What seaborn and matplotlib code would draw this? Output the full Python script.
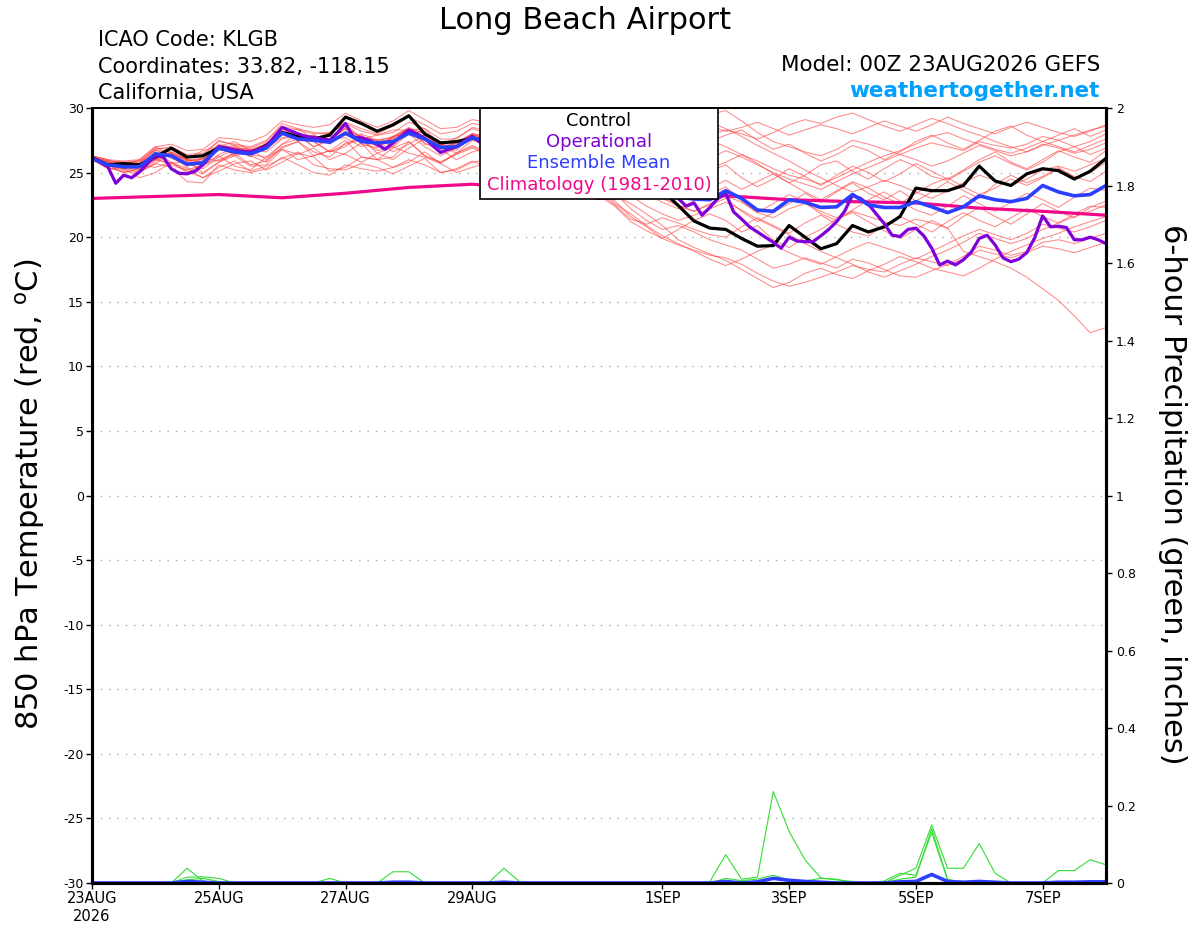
import numpy as np
import pandas as pd
import matplotlib
matplotlib.use("Agg")
import matplotlib.pyplot as plt
from matplotlib.patches import Rectangle
import seaborn as sns

sns.set_theme(style="white")
plt.rcParams['font.family'] = ['DejaVu Sans']
plt.rcParams['text.color'] = 'black'
plt.rcParams['axes.labelcolor'] = 'black'

# === time axes: GEFS 6-hourly out to 384 h, operational run 3-hourly ===
days = np.arange(65) / 4.0
op_days = np.arange(129) / 8.0
clim_days = np.arange(17)

# 850 hPa temperature (deg C)
control = [26.15, 25.6, 25.7, 25.6, 26.2, 26.9, 26.2, 26.3, 26.9, 26.6,
           26.5, 27.1, 28.1, 27.8, 27.6, 27.9, 29.3, 28.8, 28.2, 28.7,
           29.4, 28.0, 27.3, 27.4, 27.65, 27.5, 27.3, 27.0, 26.8, 26.6,
           26.5, 26.2, 25.9, 25.6, 25.2, 24.6, 23.6, 22.45, 21.25, 20.7,
           20.6, 19.9, 19.3, 19.35, 20.9, 20.0, 19.1, 19.5, 20.9, 20.4,
           20.8, 21.6, 23.8, 23.6, 23.6, 24.0, 25.5, 24.35, 24.0, 24.9,
           25.3, 25.15, 24.5, 25.1, 26.1]

ens_mean = [26.1, 25.6, 25.45, 25.45, 26.45, 26.3, 25.65, 25.75, 26.9, 26.6,
            26.45, 26.9, 28.05, 27.6, 27.5, 27.35, 28.05, 27.4, 27.3, 27.4,
            28.05, 27.6, 26.95, 27.0, 27.7, 27.4, 27.2, 27.0, 26.8, 26.6,
            26.3, 26.0, 25.6, 25.2, 24.8, 24.3, 23.7, 23.1, 22.95, 22.9,
            23.6, 23.0, 22.1, 22.0, 22.9, 22.7, 22.3, 22.35, 23.3, 22.5,
            22.3, 22.3, 22.75, 22.35, 21.9, 22.35, 23.2, 22.9, 22.75, 23.0,
            24.0, 23.5, 23.2, 23.3, 24.0]

operational = [26.13, 25.8, 25.45, 24.17, 24.8, 24.6, 25.05, 25.7, 26.3, 26.2,
               25.3, 24.95, 24.9, 25.1, 25.6, 26.3, 27.0, 26.9, 26.75, 26.65,
               26.6, 26.8, 27.05, 27.75, 28.5, 28.25, 28.0, 27.8, 27.7, 27.6,
               27.5, 28.1, 28.8, 27.75, 27.7, 27.5, 27.2, 26.8, 27.3, 27.8,
               28.3, 28.0, 27.65, 27.1, 26.55, 26.8, 27.0, 27.45, 27.8, 27.35,
               27.2, 27.0, 26.8, 26.9, 27.0, 26.7, 26.4, 26.5, 26.6, 26.3,
               26.0, 26.1, 26.2, 25.9, 25.6, 25.7, 25.5, 25.2, 25.0, 24.9,
               24.6, 24.3, 24.0, 23.6, 23.0, 22.4, 22.65, 21.7, 22.3, 23.0,
               23.4, 21.95, 21.4, 20.8, 20.4, 20.0, 19.6, 19.15, 20.0, 19.7,
               19.65, 19.65, 20.1, 20.6, 21.2, 22.0, 23.25, 23.0, 22.55, 21.8,
               21.05, 20.15, 20.05, 20.6, 20.7, 20.1, 19.15, 17.85, 18.15, 17.85,
               18.25, 18.85, 19.9, 20.15, 19.4, 18.4, 18.1, 18.3, 18.8, 19.95,
               21.65, 20.8, 20.85, 20.75, 19.8, 19.8, 20.0, 19.8, 19.5]

climatology = [23.0, 23.15, 23.3, 23.05, 23.4, 23.85, 24.1, 23.7, 23.0,
               23.2, 23.2, 22.9, 22.75, 22.65, 22.25, 22.0, 21.7]

members = [
    [26.2, 25.9, 25.8, 25.9, 26.8, 27.0, 26.4, 26.5, 27.4, 27.2, 27.0, 27.5, 28.6,
     28.3, 28.0, 28.1, 28.9, 28.4, 28.0, 28.6, 29.3, 28.7, 28.0, 28.2, 28.8, 28.6,
     28.5, 28.9, 29.2, 29.0, 28.8, 28.5, 28.6, 28.9, 29.2, 29.4, 29.6, 29.3, 29.1,
     29.5, 29.8, 29.0, 28.1, 27.4, 27.0, 26.6, 26.3, 26.8, 27.5, 27.2, 26.8, 26.4,
     26.9, 27.3, 27.0, 26.7, 27.4, 27.1, 26.9, 27.2, 27.8, 27.5, 27.0, 27.4, 28.0],
    [26.0, 25.4, 25.0, 25.3, 26.1, 25.6, 25.2, 25.6, 26.3, 25.5, 25.2, 26.2, 26.8,
     26.0, 26.3, 26.7, 26.4, 25.8, 26.5, 27.0, 26.5, 26.2, 25.7, 26.5, 27.1, 26.6,
     26.3, 26.0, 25.8, 25.4, 25.0, 24.6, 23.9, 22.8, 21.6, 20.8, 19.9, 19.4, 19.0,
     18.6, 18.4, 17.9, 17.2, 16.6, 16.2, 16.5, 16.9, 17.3, 17.8, 17.5, 17.3, 17.9,
     18.4, 18.1, 17.8, 18.3, 19.0, 18.7, 18.4, 18.8, 19.3, 19.1, 18.8, 19.2, 19.6],
    [26.3, 26.0, 25.6, 26.0, 27.0, 26.3, 26.1, 26.7, 27.0, 27.4, 26.7, 27.2, 28.0,
     28.4, 27.6, 28.1, 28.8, 27.6, 27.9, 28.3, 28.3, 28.4, 27.1, 27.7, 28.4, 28.0,
     27.8, 27.7, 27.6, 27.4, 27.1, 26.9, 26.4, 26.0, 25.5, 25.0, 24.6, 24.4, 24.9,
     25.3, 25.8, 26.4, 25.7, 24.9, 24.2, 24.8, 25.6, 25.9, 25.1, 24.5, 25.3, 26.0,
     25.5, 24.7, 24.4, 25.1, 25.8, 26.3, 25.7, 25.2, 25.8, 26.6, 27.0, 26.4, 26.9],
    [26.1, 25.8, 25.6, 25.1, 25.7, 26.5, 25.9, 25.0, 25.8, 26.6, 26.3, 25.8, 27.0,
     27.4, 26.6, 26.2, 27.3, 27.6, 26.5, 26.0, 26.9, 27.6, 26.8, 26.0, 26.6, 26.9,
     26.7, 26.6, 26.3, 26.0, 25.6, 25.1, 24.4, 23.4, 22.2, 21.3, 20.6, 20.9, 20.4,
     19.8, 19.4, 19.0, 18.3, 17.6, 17.9, 18.4, 18.0, 17.6, 18.3, 18.0, 17.5, 17.0,
     16.9, 17.4, 17.9, 18.5, 19.3, 19.0, 18.6, 18.9, 19.6, 19.8, 19.5, 19.9, 20.3],
    [26.2, 25.7, 25.6, 25.6, 26.5, 26.5, 25.9, 26.0, 27.1, 26.9, 26.8, 27.2, 28.3,
     27.9, 27.8, 27.6, 28.4, 27.8, 27.5, 27.7, 28.4, 28.0, 27.3, 27.3, 28.0, 27.8,
     27.9, 28.2, 28.4, 28.1, 27.8, 27.5, 27.7, 28.0, 27.6, 27.1, 26.6, 26.3, 26.8,
     27.4, 27.9, 28.3, 27.5, 26.8, 27.2, 26.5, 25.9, 26.4, 27.1, 26.7, 26.0, 26.6,
     27.4, 27.9, 27.3, 26.8, 27.5, 28.2, 28.6, 27.9, 27.4, 27.9, 28.4, 27.8, 28.3],
    [26.0, 25.5, 25.7, 25.5, 26.0, 25.7, 25.9, 26.1, 25.9, 26.4, 26.8, 26.0, 27.2,
     28.0, 27.4, 26.6, 27.0, 28.0, 27.5, 26.6, 27.2, 27.9, 27.1, 26.5, 27.5, 27.1,
     26.8, 26.5, 26.4, 26.1, 25.8, 25.5, 25.0, 24.5, 24.0, 23.6, 23.1, 22.5, 22.0,
     22.6, 23.2, 22.7, 21.9, 21.5, 22.2, 22.6, 22.0, 21.5, 22.0, 21.6, 21.2, 20.9,
     21.4, 21.1, 20.7, 18.9, 18.5, 18.1, 17.6, 16.9, 16.0, 15.1, 13.9, 12.6, 13.0],
    [26.3, 26.0, 25.9, 26.0, 27.0, 27.2, 26.7, 26.8, 27.7, 27.6, 27.4, 27.9, 29.0,
     28.7, 28.5, 28.7, 29.6, 29.0, 28.5, 29.0, 29.8, 29.1, 28.4, 28.5, 29.1, 28.9,
     28.6, 28.4, 28.7, 28.9, 29.2, 29.4, 29.0, 28.6, 28.3, 28.0, 27.8, 28.4, 28.9,
     28.6, 28.2, 28.5, 28.9, 28.4, 27.9, 28.3, 28.7, 28.4, 28.0, 28.5, 29.0, 28.6,
     28.2, 28.7, 29.3, 28.8, 28.4, 28.0, 28.5, 28.9, 28.5, 28.1, 27.8, 28.2, 28.7],
    [26.0, 25.5, 25.3, 24.6, 25.0, 25.8, 25.3, 24.6, 25.1, 25.7, 25.9, 25.2, 25.8,
     26.5, 26.2, 25.1, 25.4, 26.2, 26.0, 25.4, 25.8, 26.6, 25.7, 25.0, 25.4, 25.8,
     25.5, 25.3, 25.1, 24.8, 24.5, 24.1, 23.4, 22.5, 21.4, 21.0, 21.5, 21.1, 20.6,
     20.2, 20.0, 20.8, 21.5, 20.9, 20.3, 21.1, 21.7, 21.0, 20.4, 20.1, 20.9, 21.6,
     21.0, 20.4, 21.2, 21.9, 21.3, 20.8, 21.5, 22.2, 21.6, 21.1, 21.8, 22.4, 22.3],
    [26.1, 25.8, 25.3, 25.7, 26.8, 26.1, 25.6, 26.1, 26.7, 27.0, 26.2, 27.2, 28.5,
     27.4, 27.9, 27.2, 28.0, 27.9, 27.0, 27.8, 28.0, 28.2, 26.8, 27.4, 27.6, 27.6,
     27.4, 27.3, 27.0, 26.7, 26.5, 26.2, 25.9, 25.4, 24.9, 24.5, 24.0, 23.5, 23.2,
     23.8, 24.4, 23.7, 24.3, 24.9, 24.2, 23.5, 22.9, 23.6, 24.3, 23.8, 23.1, 22.6,
     23.4, 24.1, 24.6, 23.9, 23.3, 23.8, 24.5, 24.0, 24.6, 25.3, 24.7, 24.3, 25.1],
    [26.2, 25.9, 25.2, 25.5, 26.6, 25.8, 25.0, 25.6, 26.0, 26.5, 25.6, 25.9, 26.9,
     27.4, 26.3, 26.7, 27.5, 26.2, 26.0, 26.9, 27.4, 26.3, 25.8, 26.4, 26.9, 26.4,
     26.2, 26.0, 25.7, 25.4, 25.1, 24.7, 24.0, 23.2, 22.6, 21.8, 20.9, 19.8, 19.2,
     18.7, 18.2, 17.5, 16.8, 16.1, 16.5, 17.2, 17.6, 17.1, 16.8, 17.4, 17.9, 18.5,
     18.1, 17.6, 17.3, 17.0, 17.6, 18.3, 18.9, 19.4, 19.9, 20.3, 20.8, 21.2, 21.6],
    [26.3, 25.9, 25.8, 25.8, 26.9, 26.8, 26.2, 26.3, 27.5, 27.1, 26.9, 27.4, 28.8,
     28.4, 28.1, 28.0, 28.8, 28.2, 27.9, 28.1, 28.9, 28.4, 27.6, 27.6, 28.5, 28.2,
     27.9, 27.6, 27.2, 26.9, 26.6, 26.3, 26.1, 26.4, 26.9, 27.3, 27.8, 28.3, 28.0,
     27.5, 27.0, 26.4, 25.9, 25.3, 24.8, 24.5, 24.1, 24.6, 25.2, 25.8, 26.3, 26.7,
     27.2, 27.8, 28.1, 27.6, 27.2, 26.8, 26.5, 26.9, 27.4, 27.0, 26.6, 27.1, 27.6],
    [26.0, 25.3, 25.3, 25.6, 25.4, 25.8, 25.1, 24.6, 25.4, 25.9, 25.1, 25.5, 26.1,
     26.6, 25.6, 25.3, 25.2, 25.7, 25.4, 24.9, 25.5, 26.1, 25.0, 25.3, 25.9, 25.4,
     25.1, 24.8, 24.6, 24.3, 24.0, 23.7, 23.2, 22.4, 21.2, 20.5, 19.9, 20.6, 21.3,
     21.8, 21.3, 20.4, 20.9, 19.8, 19.2, 20.0, 20.6, 21.4, 21.9, 21.2, 20.5, 19.9,
     20.6, 21.3, 20.7, 21.6, 22.3, 21.6, 21.0, 21.8, 22.6, 22.0, 21.5, 22.3, 22.8],
    [26.1, 25.7, 25.8, 25.2, 26.0, 26.6, 25.5, 25.9, 27.1, 26.3, 26.6, 26.9, 27.7,
     27.9, 27.0, 27.6, 27.7, 27.0, 27.4, 27.1, 28.3, 27.2, 27.1, 26.7, 27.9, 27.3,
     27.0, 26.7, 26.5, 26.2, 25.9, 25.6, 25.1, 24.6, 23.9, 23.3, 22.7, 22.2, 22.8,
     23.3, 23.9, 22.8, 21.9, 22.6, 23.3, 22.7, 21.8, 21.3, 22.1, 22.9, 23.5, 22.8,
     22.1, 21.7, 22.4, 23.2, 22.6, 22.0, 22.7, 23.4, 22.9, 22.3, 23.1, 23.8, 23.6],
    [26.2, 25.8, 25.6, 25.7, 26.7, 26.6, 26.0, 26.1, 27.2, 26.9, 26.7, 27.2, 28.4,
     28.0, 27.8, 27.6, 28.5, 27.7, 27.5, 27.8, 28.5, 28.0, 27.3, 27.3, 28.0, 27.8,
     27.6, 27.5, 27.8, 28.0, 27.7, 27.4, 27.0, 26.6, 26.3, 26.0, 26.5, 27.1, 27.6,
     27.9, 28.3, 28.0, 27.6, 28.1, 28.7, 29.1, 28.8, 29.3, 29.6, 29.1, 28.6, 28.2,
     28.7, 29.2, 28.8, 28.3, 27.9, 27.4, 27.0, 26.6, 27.1, 27.5, 27.9, 28.3, 28.6],
    [26.0, 25.6, 25.0, 25.4, 26.4, 26.3, 25.4, 24.9, 25.8, 26.3, 25.5, 25.6, 26.8,
     26.4, 26.9, 26.0, 26.5, 27.3, 26.0, 26.2, 27.4, 26.3, 25.8, 26.5, 27.0, 26.5,
     26.2, 25.9, 25.6, 25.3, 25.0, 24.6, 23.8, 22.6, 21.8, 20.9, 20.1, 19.5, 18.9,
     18.3, 17.8, 18.3, 18.9, 19.4, 18.8, 18.3, 17.9, 18.5, 19.1, 19.6, 19.2, 18.8,
     18.3, 18.9, 19.5, 20.1, 20.6, 20.2, 19.8, 20.3, 21.0, 20.7, 20.4, 20.8, 21.3],
    [26.2, 25.6, 25.7, 25.9, 26.3, 26.8, 26.0, 25.8, 26.9, 27.1, 26.5, 27.3, 28.0,
     27.6, 27.9, 27.4, 27.9, 27.7, 27.0, 27.7, 28.4, 27.5, 27.2, 26.9, 27.9, 27.6,
     27.5, 27.3, 27.1, 27.0, 26.7, 26.4, 26.0, 25.6, 25.1, 24.7, 24.3, 23.9, 24.5,
     25.1, 25.6, 24.6, 23.9, 24.5, 25.3, 24.7, 24.0, 24.8, 25.5, 25.0, 24.3, 24.9,
     25.7, 25.1, 24.5, 25.2, 26.0, 26.6, 25.8, 25.3, 26.0, 26.7, 26.2, 25.8, 26.7],
    [26.1, 25.7, 25.6, 25.5, 26.5, 26.4, 25.7, 25.9, 27.0, 26.7, 26.5, 27.0, 28.1,
     27.7, 27.5, 27.3, 28.2, 27.6, 27.4, 27.6, 28.3, 27.8, 27.1, 27.2, 27.9, 27.7,
     27.8, 28.1, 28.5, 28.8, 29.1, 29.3, 29.0, 28.7, 28.9, 29.2, 29.5, 29.7, 29.3,
     28.9, 28.4, 27.8, 27.1, 26.5, 25.9, 25.2, 24.6, 24.0, 23.5, 23.9, 24.4, 24.0,
     23.5, 23.0, 23.6, 24.2, 24.8, 24.4, 24.0, 24.5, 25.2, 25.5, 25.1, 25.6, 26.1],
    [26.0, 25.7, 25.4, 25.0, 25.9, 26.4, 25.7, 25.3, 26.2, 26.8, 26.4, 26.2, 27.2,
     27.6, 27.4, 26.6, 27.2, 27.5, 26.7, 27.0, 28.0, 27.0, 26.3, 26.9, 27.6, 27.1,
     26.9, 26.7, 26.4, 26.1, 25.8, 25.3, 24.7, 24.0, 23.2, 22.4, 21.8, 21.3, 21.7,
     22.2, 22.7, 22.1, 21.4, 20.8, 20.2, 19.5, 18.9, 18.4, 17.9, 17.3, 16.9, 17.4,
     17.9, 18.5, 19.0, 19.6, 20.3, 19.9, 19.5, 19.9, 20.6, 21.1, 21.6, 22.0, 22.5],
    [26.2, 25.5, 25.8, 25.7, 26.0, 26.6, 26.0, 25.5, 26.4, 26.9, 26.8, 26.6, 27.6,
     27.9, 27.0, 27.5, 28.4, 27.2, 26.9, 27.8, 28.4, 27.3, 26.6, 27.3, 28.0, 27.5,
     27.2, 26.9, 26.7, 26.4, 26.2, 25.9, 25.5, 24.9, 24.2, 23.6, 23.0, 22.4, 22.0,
     22.5, 23.0, 22.0, 21.2, 21.9, 22.6, 23.4, 22.7, 23.5, 24.2, 23.4, 22.9, 23.6,
     22.8, 23.5, 24.3, 23.6, 23.0, 24.1, 24.8, 24.2, 24.7, 25.4, 24.6, 25.0, 25.8],
    [26.1, 25.4, 25.1, 25.0, 25.7, 25.4, 24.3, 24.2, 25.6, 25.2, 25.0, 25.3, 26.2,
     25.6, 25.0, 24.8, 25.6, 25.3, 25.1, 25.4, 26.0, 25.6, 25.0, 25.2, 25.8, 26.0,
     26.3, 26.6, 26.9, 27.2, 27.5, 27.8, 28.1, 27.8, 27.4, 27.0, 26.5, 26.0, 25.6,
     26.1, 26.7, 26.2, 25.6, 25.0, 24.5, 24.1, 23.7, 24.3, 24.9, 25.4, 25.9, 26.4,
     26.0, 25.5, 25.9, 26.5, 27.1, 26.7, 26.3, 26.6, 27.2, 26.9, 26.5, 26.8, 27.3],
]

# 6-hour precipitation (inches), only the nonzero 6-h steps of each member
precip_members = [
    {6: 0.038, 7: 0.005},
    {6: 0.015, 7: 0.016, 8: 0.012},
    {6: 0.008, 7: 0.012, 8: 0.004},
    {15: 0.012},
    {19: 0.029, 20: 0.029},
    {26: 0.038, 27: 0.003},
    {39: 0.004, 40: 0.073, 41: 0.010, 42: 0.015, 43: 0.236, 44: 0.133,
     45: 0.060, 46: 0.013, 47: 0.008, 48: 0.004},
    {40: 0.012, 41: 0.006, 42: 0.010, 43: 0.020, 44: 0.008, 45: 0.005,
     46: 0.012, 47: 0.010},
    {51: 0.020, 52: 0.038, 53: 0.150, 54: 0.038, 55: 0.038, 56: 0.102, 57: 0.025},
    {50: 0.005, 51: 0.025, 52: 0.020, 53: 0.130, 54: 0.008},
    {51: 0.010, 52: 0.015, 53: 0.140, 54: 0.010},
    {61: 0.032, 62: 0.032, 63: 0.060, 64: 0.047},
]
precip_mean = {6: 0.004, 7: 0.002, 19: 0.002, 20: 0.002, 26: 0.002, 40: 0.004,
               42: 0.003, 43: 0.012, 44: 0.007, 45: 0.004, 46: 0.002, 51: 0.003,
               52: 0.004, 53: 0.022, 54: 0.004, 55: 0.002, 56: 0.004, 57: 0.002,
               61: 0.002, 62: 0.002, 63: 0.003, 64: 0.003}

tick_days = [0, 2, 4, 6, 9, 11, 13, 15]
tick_labels = ['23AUG\n2026', '25AUG', '27AUG', '29AUG', '1SEP', '3SEP', '5SEP', '7SEP']

RED = '#ff3b3b'
GREEN = '#33dd33'
BLACK = '#000000'
PURPLE = '#7f00d8'
BLUE = '#2b3fff'
PINK = '#f0088a'

# --- long tables for the ensemble members ---
member_df = pd.DataFrame(
    [(m, d, t) for m, row in enumerate(members) for d, t in zip(days, row)],
    columns=['member', 'day', 'temp'])

precip_rows = []
for m, nz in enumerate(precip_members):
    vals = np.zeros(len(days))
    for k, v in nz.items():
        vals[k] = v
    precip_rows += [(m, d, p) for d, p in zip(days, vals)]
precip_df = pd.DataFrame(precip_rows, columns=['member', 'day', 'precip'])
mean_precip = np.zeros(len(days))
for k, v in precip_mean.items():
    mean_precip[k] = v

# --- figure ---
fig = plt.figure(figsize=(12, 9.27), dpi=100)
ax = fig.add_axes([92 / 1200, 1 - 883 / 927, 1014 / 1200, 775 / 927])
ax2 = ax.twinx()

sns.lineplot(data=member_df, x='day', y='temp', units='member', estimator=None,
             color=RED, linewidth=0.75, alpha=0.6, ax=ax, legend=False)
sns.lineplot(x=clim_days, y=climatology, color=PINK, linewidth=2.3, ax=ax)
sns.lineplot(x=days, y=control, color=BLACK, linewidth=2.3, ax=ax)
sns.lineplot(x=op_days, y=operational, color=PURPLE, linewidth=2.3, ax=ax)
sns.lineplot(x=days, y=ens_mean, color=BLUE, linewidth=2.6, ax=ax)

sns.lineplot(data=precip_df, x='day', y='precip', units='member', estimator=None,
             color=GREEN, linewidth=0.8, ax=ax2, legend=False)
sns.lineplot(x=days, y=mean_precip, color=BLUE, linewidth=2.6, ax=ax2)

ax.set_xlim(0, 16)
ax.set_ylim(-30, 30)
ax2.set_ylim(0, 2)
ax.set_yticks(range(-30, 31, 5))
ax.set_yticklabels([str(v) for v in range(-30, 31, 5)])
ptick = np.round(np.arange(0, 2.01, 0.2), 1)
ax2.set_yticks(ptick)
ax2.set_yticklabels([f'{v:g}' for v in ptick])
ax.set_xticks(tick_days)
ax.set_xticklabels(tick_labels)
ax.set_xlabel('')
ax.set_ylabel('')
ax2.set_ylabel('')

ax.yaxis.grid(True, linestyle=(0, (1, 5)), color='#aaaaaa', linewidth=1)
ax.xaxis.grid(False)
ax2.grid(False)

ax.tick_params(axis='x', bottom=True, direction='out', length=4, width=1,
               labelsize=10.5, pad=2, colors='black')
ax.tick_params(axis='y', left=True, direction='out', length=4, width=1,
               labelsize=9, pad=2, colors='black')
ax2.tick_params(axis='y', right=True, direction='out', length=4, width=1,
                labelsize=9, pad=3, colors='black')

for a in (ax, ax2):
    for side, sp in a.spines.items():
        sp.set_color('black')
        sp.set_linewidth(1.3 if side == 'top' else 2.2)

# legend box drawn over the lines
ax.add_patch(Rectangle((388 / 1014, 684 / 775), 238 / 1014, 91 / 775,
                       transform=ax.transAxes, facecolor='white',
                       edgecolor='black', linewidth=1.2, zorder=20, clip_on=False))
for label, col, ypix in [('Control', BLACK, 121), ('Operational', PURPLE, 142),
                         ('Ensemble Mean', BLUE, 163),
                         ('Climatology (1981-2010)', PINK, 185)]:
    ax.text(0.5, (883 - ypix) / 775, label, color=col, fontsize=13,
            ha='center', va='center', transform=ax.transAxes, zorder=21)

# header text
fig.text(585 / 1200, 1 - 29.3 / 927, 'Long Beach Airport', fontsize=22,
         ha='center', va='baseline')
fig.text(98 / 1200, 1 - 46 / 927, 'ICAO Code: KLGB', fontsize=15, va='baseline')
fig.text(98 / 1200, 1 - 72.7 / 927, 'Coordinates: 33.82, -118.15', fontsize=15,
         va='baseline')
fig.text(98 / 1200, 1 - 99.3 / 927, 'California, USA', fontsize=15, va='baseline')
fig.text(1100 / 1200, 1 - 71 / 927, 'Model: 00Z 23AUG2026 GEFS', fontsize=15.5,
         ha='right', va='baseline')
fig.text(1100 / 1200, 1 - 96.7 / 927, 'weathertogether.net', fontsize=15.5,
         fontweight='bold', color='#00a0ff', ha='right', va='baseline')

fig.text(30 / 1200, 1 - 494 / 927, '850 hPa Temperature (red, $^{\\mathrm{o}}$C)',
         fontsize=22, rotation=90, ha='center', va='center')
fig.text(1172 / 1200, 1 - 494 / 927, '6-hour Precipitation (green, inches)',
         fontsize=22, rotation=-90, ha='center', va='center')

fig.savefig('out.png', dpi=100)
